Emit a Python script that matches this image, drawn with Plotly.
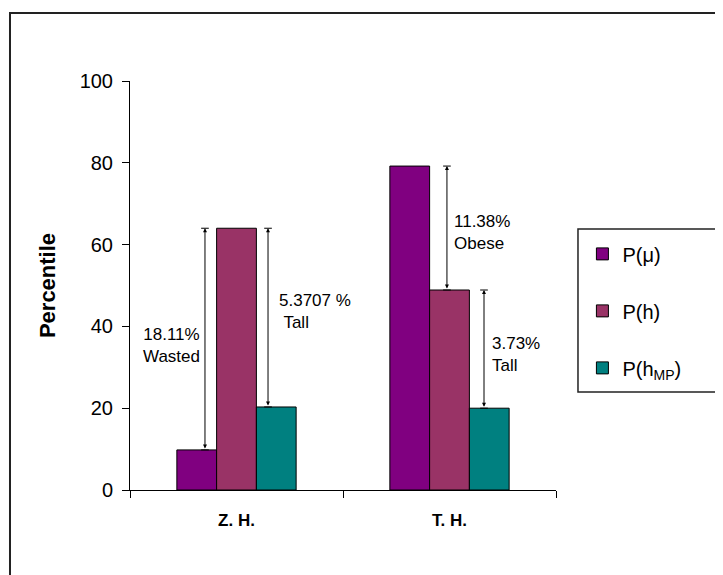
import plotly.graph_objects as go

categories = ["Z. H.", "T. H."]
series_names = ["P(μ)", "P(h)", "P(h<sub>MP</sub>)"]
p_mu = [9.8, 79.2]
p_h = [64.0, 48.9]
p_hmp = [20.3, 20.0]
colors = ["#800080", "#993366", "#008080"]

gap_labels = [
    "18.11%<br>Wasted",
    "5.3707 %<br> Tall",
    "11.38%<br>Obese",
    "3.73%<br>Tall",
]

FONT = "Liberation Sans, Arial, sans-serif"

fig = go.Figure()
for i, (name, vals) in enumerate(zip(series_names, [p_mu, p_h, p_hmp])):
    fig.add_trace(go.Bar(
        x=categories, y=vals, name=name,
        marker=dict(color=colors[i], line=dict(color="black", width=1)),
        legendgroup=f"g{i}",
    ))

# arrows: (category index, x offset, from value, to value)
arrows = [
    (0, -0.148, p_mu[0], p_h[0]),
    (0, 0.148, p_hmp[0], p_h[0]),
    (1, -0.012, p_h[1], p_mu[1]),
    (1, 0.162, p_hmp[1], p_h[1]),
]
for ci, dx, y0, y1 in arrows:
    xp = ci + dx
    fig.add_annotation(
        x=xp, y=y1, ax=xp, ay=y0, xref="x", yref="y", axref="x", ayref="y",
        text="", showarrow=True, arrowhead=2, arrowsize=0.8, arrowwidth=1,
        arrowside="end+start", arrowcolor="black", standoff=0, startstandoff=0,
    )
    for yv in (y0, y1):
        fig.add_shape(type="line", xref="x", yref="y",
                      x0=xp - 0.018, x1=xp + 0.018, y0=yv, y1=yv,
                      line=dict(color="black", width=1))

# label positions: (x, y, anchor)
label_pos = [
    (-0.307, 35.4, "center"),
    (0.19, 43.6, "left"),
    (1.012, 63.0, "left"),
    (1.19, 33.1, "left"),
]
for txt, (lx, ly, anc) in zip(gap_labels, label_pos):
    fig.add_annotation(
        x=lx, y=ly, xref="x", yref="y", text=txt, showarrow=False,
        xanchor=anc, yanchor="middle", align=anc,
        font=dict(family=FONT, size=17, color="black"),
    )

# outer frame (cropped chart border)
fig.add_shape(type="rect", xref="paper", yref="paper",
              x0=-0.2817, x1=1.45, y0=-0.3, y1=1.166,
              line=dict(color="#222222", width=2), layer="below")
# legend box (extends past right edge)
fig.add_shape(type="rect", xref="paper", yref="paper",
              x0=1.0516, x1=1.45, y0=0.2396, y1=0.638,
              line=dict(color="#222222", width=1.5), layer="below")

fig.update_layout(
    width=723, height=575,
    margin=dict(l=122, r=175, t=73, b=93),
    paper_bgcolor="white", plot_bgcolor="white",
    barmode="group", bargap=0.44, bargroupgap=0,
    font=dict(family=FONT, color="black"),
    showlegend=True,
    legend=dict(
        x=1.062, y=0.625, xanchor="left", yanchor="top",
        font=dict(family=FONT, size=20, color="black"),
        bgcolor="rgba(0,0,0,0)", borderwidth=0,
        traceorder="grouped", tracegroupgap=28,
        itemwidth=30,
    ),
    xaxis=dict(
        type="category", showline=True, linecolor="black", linewidth=1,
        ticks="outside", ticklen=7, tickcolor="black", tickson="boundaries",
        ticklabelstandoff=15,
        tickfont=dict(family=FONT, size=17, weight="bold", color="black"),
        showgrid=False, zeroline=False,
    ),
    yaxis=dict(
        range=[0, 100], tickvals=[0, 20, 40, 60, 80, 100],
        showline=True, linecolor="black", linewidth=1,
        ticks="outside", ticklen=7, tickcolor="black",
        ticklabelstandoff=5,
        tickfont=dict(family=FONT, size=20, color="black"),
        showgrid=False, zeroline=False,
        title=dict(text="Percentile", font=dict(family=FONT, size=22, weight="bold"),
                   standoff=17),
    ),
)

fig.write_html("out.html")
